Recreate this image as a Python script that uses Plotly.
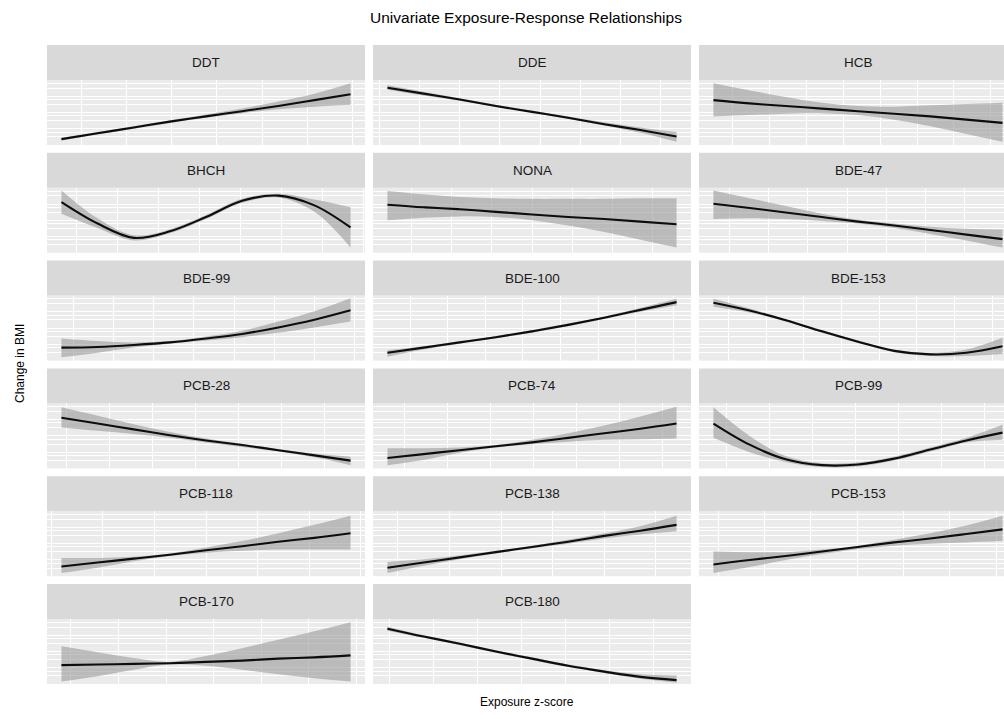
import plotly.graph_objects as go

# ---------------- data ----------------
labels = ["DDT", "DDE", "HCB", "BHCH", "NONA", "BDE-47", "BDE-99", "BDE-100", "BDE-153",
          "PCB-28", "PCB-74", "PCB-99", "PCB-118", "PCB-138", "PCB-153", "PCB-170", "PCB-180"]

ddt_x = [-0.72, -0.32, 0.08, 0.48, 0.88, 1.28, 1.68, 2.08, 2.48]
ddt_fit = [0.09, 0.18, 0.27, 0.36, 0.44, 0.52, 0.60, 0.69, 0.78]
ddt_lo = [0.07, 0.16, 0.25, 0.34, 0.42, 0.49, 0.55, 0.59, 0.62]
ddt_hi = [0.11, 0.20, 0.29, 0.38, 0.47, 0.56, 0.67, 0.79, 0.95]

dde_x = [-0.9, -0.45, 0.0, 0.45, 0.9, 1.35, 1.8, 2.25, 2.7]
dde_fit = [0.88, 0.79, 0.70, 0.60, 0.51, 0.42, 0.32, 0.23, 0.13]
dde_lo = [0.85, 0.76, 0.68, 0.59, 0.50, 0.40, 0.30, 0.19, 0.05]
dde_hi = [0.92, 0.82, 0.72, 0.62, 0.53, 0.44, 0.35, 0.27, 0.20]

hcb_x = [-0.76, -0.27, 0.22, 0.71, 1.2, 1.69, 2.18, 2.67, 3.16]
hcb_fit = [0.69, 0.64, 0.60, 0.56, 0.52, 0.48, 0.44, 0.39, 0.34]
hcb_lo = [0.44, 0.46, 0.48, 0.49, 0.46, 0.39, 0.29, 0.17, 0.05]
hcb_hi = [0.95, 0.84, 0.74, 0.65, 0.60, 0.59, 0.61, 0.63, 0.65]

bhch_x = [-0.68, -0.24, 0.2, 0.64, 1.08, 1.52, 1.96, 2.4, 2.84]
bhch_fit = [0.78, 0.45, 0.23, 0.33, 0.55, 0.80, 0.88, 0.73, 0.39]
bhch_lo = [0.60, 0.38, 0.19, 0.30, 0.52, 0.77, 0.85, 0.63, 0.08]
bhch_hi = [0.96, 0.53, 0.27, 0.36, 0.58, 0.83, 0.91, 0.82, 0.70]

nona_x = [-0.8, -0.35, 0.1, 0.55, 1.0, 1.45, 1.9, 2.35, 2.8]
nona_fit = [0.74, 0.70, 0.67, 0.63, 0.59, 0.55, 0.52, 0.48, 0.44]
nona_lo = [0.50, 0.54, 0.56, 0.55, 0.50, 0.42, 0.32, 0.20, 0.08]
nona_hi = [0.95, 0.90, 0.86, 0.84, 0.83, 0.83, 0.83, 0.84, 0.84]

bde47_x = [-0.7, -0.24, 0.22, 0.68, 1.14, 1.6, 2.06, 2.52, 2.98]
bde47_fit = [0.755, 0.69, 0.62, 0.55, 0.48, 0.42, 0.35, 0.28, 0.21]
bde47_lo = [0.52, 0.53, 0.52, 0.49, 0.45, 0.38, 0.29, 0.19, 0.08]
bde47_hi = [0.96, 0.84, 0.72, 0.60, 0.51, 0.45, 0.40, 0.37, 0.36]

bde99_x = [-0.65, -0.2, 0.25, 0.7, 1.15, 1.6, 2.05, 2.5, 2.95]
bde99_fit = [0.20, 0.21, 0.24, 0.28, 0.34, 0.41, 0.51, 0.63, 0.775]
bde99_lo = [0.05, 0.12, 0.20, 0.26, 0.31, 0.36, 0.43, 0.51, 0.60]
bde99_hi = [0.34, 0.30, 0.28, 0.30, 0.37, 0.46, 0.60, 0.76, 0.96]

bde100_x = [-0.8, -0.32, 0.16, 0.64, 1.12, 1.6, 2.08, 2.56, 3.04]
bde100_fit = [0.12, 0.20, 0.28, 0.36, 0.45, 0.55, 0.66, 0.78, 0.90]
bde100_lo = [0.06, 0.17, 0.26, 0.34, 0.43, 0.53, 0.64, 0.75, 0.85]
bde100_hi = [0.16, 0.22, 0.30, 0.38, 0.47, 0.57, 0.68, 0.81, 0.95]

bde153_x = [-0.7, -0.22, 0.26, 0.74, 1.22, 1.7, 2.18, 2.66, 3.14]
bde153_fit = [0.89, 0.77, 0.62, 0.45, 0.29, 0.15, 0.095, 0.12, 0.22]
bde153_lo = [0.83, 0.74, 0.60, 0.43, 0.27, 0.13, 0.07, 0.07, 0.10]
bde153_hi = [0.95, 0.80, 0.64, 0.47, 0.31, 0.17, 0.12, 0.17, 0.35]

pcb28_x = [-0.56, -0.14, 0.28, 0.7, 1.12, 1.54, 1.96, 2.38, 2.8]
pcb28_fit = [0.78, 0.69, 0.60, 0.51, 0.43, 0.36, 0.28, 0.20, 0.12]
pcb28_lo = [0.63, 0.58, 0.53, 0.47, 0.40, 0.33, 0.26, 0.17, 0.05]
pcb28_hi = [0.94, 0.81, 0.68, 0.56, 0.46, 0.38, 0.30, 0.23, 0.18]

pcb74_x = [-0.7, -0.28, 0.14, 0.56, 0.98, 1.4, 1.82, 2.24, 2.66]
pcb74_fit = [0.16, 0.22, 0.28, 0.34, 0.40, 0.47, 0.54, 0.61, 0.69]
pcb74_lo = [0.05, 0.13, 0.24, 0.32, 0.37, 0.41, 0.44, 0.45, 0.46]
pcb74_hi = [0.31, 0.31, 0.32, 0.36, 0.44, 0.54, 0.66, 0.80, 0.95]

pcb99_x = [-0.65, -0.23, 0.19, 0.61, 1.03, 1.45, 1.87, 2.29, 2.71]
pcb99_fit = [0.69, 0.365, 0.14, 0.05, 0.06, 0.15, 0.29, 0.43, 0.55]
pcb99_lo = [0.47, 0.25, 0.10, 0.02, 0.03, 0.12, 0.26, 0.40, 0.44]
pcb99_hi = [0.94, 0.50, 0.19, 0.08, 0.09, 0.18, 0.32, 0.47, 0.67]

pcb118_x = [-0.4, -0.05, 0.3, 0.65, 1.0, 1.35, 1.7, 2.05, 2.4]
pcb118_fit = [0.15, 0.21, 0.27, 0.33, 0.40, 0.46, 0.53, 0.59, 0.66]
pcb118_lo = [0.05, 0.13, 0.23, 0.31, 0.36, 0.39, 0.41, 0.41, 0.41]
pcb118_hi = [0.28, 0.28, 0.30, 0.35, 0.44, 0.54, 0.66, 0.79, 0.93]

pcb138_x = [-0.6, -0.25, 0.1, 0.45, 0.8, 1.15, 1.5, 1.85, 2.2]
pcb138_fit = [0.13, 0.21, 0.29, 0.37, 0.45, 0.53, 0.62, 0.70, 0.79]
pcb138_lo = [0.05, 0.16, 0.26, 0.35, 0.43, 0.50, 0.58, 0.64, 0.69]
pcb138_hi = [0.22, 0.26, 0.32, 0.39, 0.47, 0.56, 0.66, 0.77, 0.93]

pcb153_x = [-0.55, -0.16, 0.23, 0.62, 1.01, 1.4, 1.79, 2.18, 2.57]
pcb153_fit = [0.18, 0.25, 0.31, 0.38, 0.45, 0.52, 0.58, 0.65, 0.72]
pcb153_lo = [0.05, 0.14, 0.25, 0.34, 0.42, 0.47, 0.50, 0.52, 0.54]
pcb153_hi = [0.38, 0.37, 0.37, 0.41, 0.47, 0.56, 0.66, 0.78, 0.93]

pcb170_x = [-0.6, -0.22, 0.16, 0.54, 0.92, 1.3, 1.68, 2.06, 2.44]
pcb170_fit = [0.29, 0.30, 0.31, 0.32, 0.34, 0.36, 0.39, 0.41, 0.44]
pcb170_lo = [0.04, 0.12, 0.22, 0.30, 0.28, 0.22, 0.15, 0.09, 0.04]
pcb170_hi = [0.58, 0.49, 0.40, 0.34, 0.43, 0.55, 0.68, 0.81, 0.95]

pcb180_x = [-0.52, -0.11, 0.3, 0.71, 1.12, 1.53, 1.94, 2.35, 2.76]
pcb180_fit = [0.85, 0.73, 0.62, 0.50, 0.39, 0.28, 0.19, 0.11, 0.06]
pcb180_lo = [0.82, 0.71, 0.60, 0.48, 0.37, 0.26, 0.17, 0.08, 0.02]
pcb180_hi = [0.88, 0.75, 0.64, 0.52, 0.41, 0.30, 0.21, 0.15, 0.13]

panels = [
    (ddt_x, ddt_fit, ddt_lo, ddt_hi),
    (dde_x, dde_fit, dde_lo, dde_hi),
    (hcb_x, hcb_fit, hcb_lo, hcb_hi),
    (bhch_x, bhch_fit, bhch_lo, bhch_hi),
    (nona_x, nona_fit, nona_lo, nona_hi),
    (bde47_x, bde47_fit, bde47_lo, bde47_hi),
    (bde99_x, bde99_fit, bde99_lo, bde99_hi),
    (bde100_x, bde100_fit, bde100_lo, bde100_hi),
    (bde153_x, bde153_fit, bde153_lo, bde153_hi),
    (pcb28_x, pcb28_fit, pcb28_lo, pcb28_hi),
    (pcb74_x, pcb74_fit, pcb74_lo, pcb74_hi),
    (pcb99_x, pcb99_fit, pcb99_lo, pcb99_hi),
    (pcb118_x, pcb118_fit, pcb118_lo, pcb118_hi),
    (pcb138_x, pcb138_fit, pcb138_lo, pcb138_hi),
    (pcb153_x, pcb153_fit, pcb153_lo, pcb153_hi),
    (pcb170_x, pcb170_fit, pcb170_lo, pcb170_hi),
    (pcb180_x, pcb180_fit, pcb180_lo, pcb180_hi),
]

# ---------------- layout ----------------
W, H = 1004, 719
FONT = "Liberation Sans, Arial, Helvetica, sans-serif"
col_x0 = [47, 373, 699]
panel_w = 318
strip_h, plot_h, row_step, top0 = 35, 65, 107.8, 45

fig = go.Figure()
shapes, annotations = [], []
layout = {}

for idx, (lab, (xs, fit, lo, hi)) in enumerate(zip(labels, panels)):
    r, c = divmod(idx, 3)
    i = idx + 1
    xa = "x" if i == 1 else f"x{i}"
    ya = "y" if i == 1 else f"y{i}"
    top = top0 + row_step * r
    s_top, s_bot = top, top + strip_h
    p_top, p_bot = s_bot, s_bot + plot_h
    x0 = col_x0[c]
    x1 = min(x0 + panel_w, W)

    xmn, xmx = min(xs), max(xs)
    span = xmx - xmn
    rng = [xmn - 0.05 * span, xmx + 0.05 * span]
    if x1 - x0 < panel_w:
        rng[1] = rng[0] + (rng[1] - rng[0]) * (x1 - x0) / panel_w

    fig.add_trace(go.Scatter(x=xs, y=lo, mode="lines", line=dict(width=0, shape="spline"),
                             xaxis=xa, yaxis=ya, showlegend=False, hoverinfo="skip"))
    fig.add_trace(go.Scatter(x=xs, y=hi, mode="lines", line=dict(width=0, shape="spline"),
                             fill="tonexty", fillcolor="rgba(150,150,150,0.58)",
                             xaxis=xa, yaxis=ya, showlegend=False, hoverinfo="skip"))
    fig.add_trace(go.Scatter(x=xs, y=fit, mode="lines",
                             line=dict(color="#0d0d0d", width=2.1, shape="spline"),
                             xaxis=xa, yaxis=ya, showlegend=False, name=lab))

    xkey = "xaxis" if i == 1 else f"xaxis{i}"
    ykey = "yaxis" if i == 1 else f"yaxis{i}"
    layout[xkey] = dict(domain=[x0 / W, x1 / W], anchor=ya, range=rng,
                        showticklabels=False, ticks="", zeroline=False, showline=False,
                        showgrid=True, gridcolor="white", gridwidth=1.2, tick0=0, dtick=1,
                        minor=dict(showgrid=True, gridcolor="white", gridwidth=0.6, dtick=0.5),
                        fixedrange=True)
    layout[ykey] = dict(domain=[1 - p_bot / H, 1 - p_top / H], anchor=xa, range=[0, 1],
                        showticklabels=False, ticks="", zeroline=False, showline=False,
                        showgrid=True, gridcolor="white", gridwidth=1.2, tick0=0.2, dtick=0.25,
                        minor=dict(showgrid=True, gridcolor="white", gridwidth=0.6, dtick=0.125),
                        fixedrange=True)

    shapes.append(dict(type="rect", xref="paper", yref="paper",
                       x0=x0 / W, x1=x1 / W, y0=1 - s_bot / H, y1=1 - s_top / H,
                       fillcolor="#D9D9D9", line=dict(width=0), layer="below"))
    annotations.append(dict(text=lab, xref="paper", yref="paper",
                            x=(x0 + panel_w / 2) / W,
                            y=1 - (s_top + s_bot) / 2 / H, showarrow=False,
                            xanchor="center", yanchor="middle",
                            font=dict(family=FONT, size=13.5, color="#1A1A1A")))

annotations.append(dict(text="Univariate Exposure-Response Relationships", xref="paper", yref="paper",
                        x=526 / W, y=1 - 18 / H, showarrow=False, xanchor="center", yanchor="middle",
                        font=dict(family=FONT, size=15.5, color="#000000")))
annotations.append(dict(text="Change in BMI", xref="paper", yref="paper",
                        x=20 / W, y=1 - 364 / H, showarrow=False, textangle=-90,
                        xanchor="center", yanchor="middle",
                        font=dict(family=FONT, size=12, color="#000000")))
annotations.append(dict(text="Exposure z-score", xref="paper", yref="paper",
                        x=527 / W, y=1 - 702 / H, showarrow=False, xanchor="center", yanchor="middle",
                        font=dict(family=FONT, size=12, color="#000000")))

fig.update_layout(width=W, height=H, margin=dict(l=0, r=0, t=0, b=0),
                  paper_bgcolor="white", plot_bgcolor="#EBEBEB",
                  shapes=shapes, annotations=annotations, showlegend=False, **layout)

fig.write_html("out.html", config={"displayModeBar": False},
               post_script="document.body.style.margin='0';document.body.style.padding='0';")
